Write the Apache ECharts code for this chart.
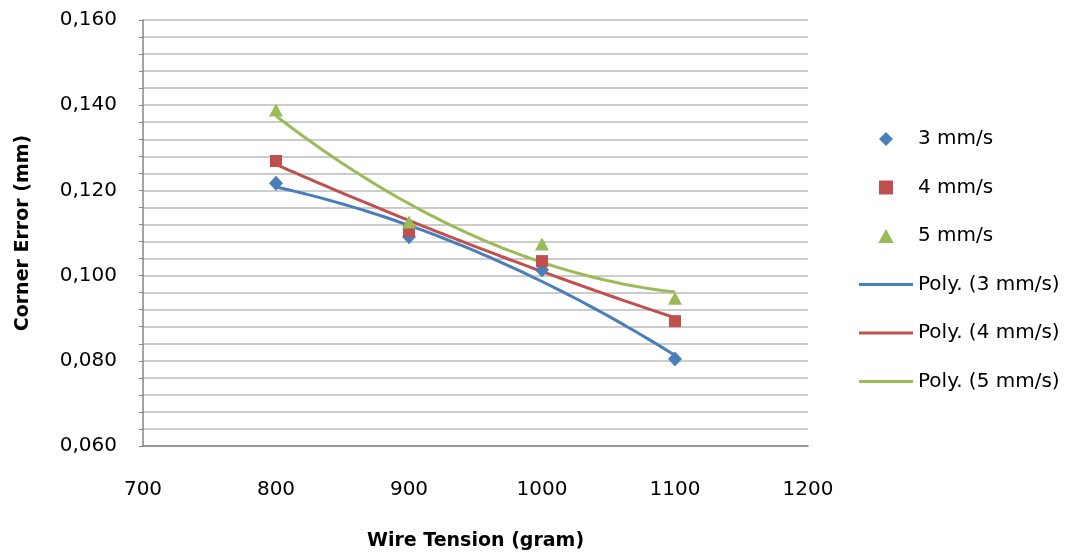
<!DOCTYPE html>
<html>
<head>
<meta charset="utf-8">
<script src="https://cdn.jsdelivr.net/npm/echarts@6/dist/echarts.min.js"></script>
<style>html,body{margin:0;padding:0;background:#fff}#c{width:1084px;height:556px}</style>
</head>
<body>
<div id="c"></div>
<script>
const tensions = [800, 900, 1000, 1100];
const err3 = [0.1217, 0.1091, 0.1013, 0.0804];
const err4 = [0.1269, 0.1105, 0.1034, 0.0893];
const err5 = [0.1389, 0.1126, 0.1074, 0.0947];
const seriesNames = ['3 mm/s', '4 mm/s', '5 mm/s'];
const trendNames = ['Poly. (3 mm/s)', 'Poly. (4 mm/s)', 'Poly. (5 mm/s)'];
const colors = ['#4a7ebb', '#c0504d', '#9bbb59'];
const xTickLabels = ['700', '800', '900', '1000', '1100', '1200'];
const yTickLabels = ['0,060', '0,080', '0,100', '0,120', '0,140', '0,160'];

// Excel-style order-2 polynomial trendline (least squares fit of the data above)
function polyFit2(xs, ys) {
  const n = xs.length;
  let s = [0,0,0,0,0], t = [0,0,0];
  for (let i = 0; i < n; i++) {
    const x = xs[i], y = ys[i];
    let p = 1;
    for (let k = 0; k <= 4; k++) { s[k] += p; if (k <= 2) t[k] += p * y; p *= x; }
  }
  const A = [[s[0], s[1], s[2], t[0]], [s[1], s[2], s[3], t[1]], [s[2], s[3], s[4], t[2]]];
  for (let i = 0; i < 3; i++) {
    for (let j = i + 1; j < 3; j++) {
      const f = A[j][i] / A[i][i];
      for (let k = i; k < 4; k++) A[j][k] -= f * A[i][k];
    }
  }
  const c = [0,0,0];
  for (let i = 2; i >= 0; i--) {
    let v = A[i][3];
    for (let k = i + 1; k < 3; k++) v -= A[i][k] * c[k];
    c[i] = v / A[i][i];
  }
  return c;
}
function trend(xs, ys) {
  const m = xs.reduce((a, b) => a + b, 0) / xs.length;
  const xc = xs.map(x => (x - m) / 100);
  const c = polyFit2(xc, ys);
  const out = [];
  for (let x = xs[0]; x <= xs[xs.length - 1] + 1e-9; x += 5) {
    const u = (x - m) / 100;
    out.push([x, c[0] + c[1] * u + c[2] * u * u]);
  }
  return out;
}

const allErr = [err3, err4, err5];
const symbols = ['diamond', 'rect', 'triangle'];
const symbolSizes = [[14, 15], [12, 12], [14, 13]];
const legendIcons = ['path://M5,0 L10,5 L5,10 L0,5 Z', 'path://M1,1 L9,1 L9,9 L1,9 Z', 'path://M5,0 L10,9 L0,9 Z'];
const lineIcon = 'path://M0,0 L54,0 L54,3 L0,3 Z';
const FONT = '"DejaVu Sans", sans-serif';

const series = [];
allErr.forEach((arr, i) => {
  series.push({
    name: seriesNames[i], type: 'scatter',
    data: tensions.map((x, j) => [x, arr[j]]),
    symbol: symbols[i], symbolSize: symbolSizes[i],
    itemStyle: { color: colors[i], opacity: 1 }, z: 3
  });
});
allErr.forEach((arr, i) => {
  series.push({
    name: trendNames[i], type: 'scatter', data: [],
    symbol: 'none', itemStyle: { color: colors[i], opacity: 1 }
  });
  series.push({
    name: trendNames[i], type: 'line', data: trend(tensions, arr),
    symbol: 'none', showSymbol: false, smooth: false, legendHoverLink: false,
    lineStyle: { color: colors[i], width: 3 }, itemStyle: { color: colors[i] }, z: 2
  });
});

const legendData = seriesNames.map((n, i) => ({ name: n, icon: legendIcons[i], itemStyle: { color: colors[i], opacity: 1 } }))
  .concat(trendNames.map((n, i) => ({ name: n, icon: lineIcon, itemStyle: { color: colors[i], opacity: 1 } })));

const chart = echarts.init(document.getElementById('c'), null, { renderer: 'canvas' });
chart.setOption({
  animation: false,
  backgroundColor: '#fff',
  textStyle: { fontFamily: FONT },
  grid: { left: 143, top: 20, right: 276, bottom: 110, containLabel: false },
  xAxis: {
    type: 'value', min: 700, max: 1200, interval: 100,
    name: 'Wire Tension (gram)', nameLocation: 'middle', nameGap: 86,
    nameTextStyle: { fontFamily: FONT, fontSize: 19, fontWeight: 'bold', color: '#000' },
    axisLine: { show: true, lineStyle: { color: '#868686', width: 1.5 } },
    axisTick: { show: false },
    axisLabel: { margin: 34, fontSize: 20, color: '#000', fontFamily: FONT,
      formatter: (v) => xTickLabels[Math.round((v - 700) / 100)] },
    splitLine: { show: false }
  },
  yAxis: {
    type: 'value', min: 0.06, max: 0.16, interval: 0.02,
    name: 'Corner Error (mm)', nameLocation: 'middle', nameGap: 110, nameRotate: 90,
    nameTextStyle: { fontFamily: FONT, fontSize: 19, fontWeight: 'bold', color: '#000' },
    axisLine: { show: true, lineStyle: { color: '#868686', width: 1.5 } },
    axisTick: { show: true, length: 4, lineStyle: { color: '#868686' } },
    minorTick: { show: true, splitNumber: 5, length: 4, lineStyle: { color: '#868686' } },
    axisLabel: { margin: 26, fontSize: 20, color: '#000', fontFamily: FONT,
      formatter: (v) => yTickLabels[Math.round((v - 0.06) / 0.02)] },
    splitLine: { show: true, lineStyle: { color: '#bcbcbc', width: 1.5 } },
    minorSplitLine: { show: true, lineStyle: { color: '#bcbcbc', width: 1.5 } }
  },
  legend: {
    orient: 'vertical', left: 854, top: 124,
    itemWidth: 54, itemHeight: 14, itemGap: 28.5,
    textStyle: { fontSize: 20, color: '#000', fontFamily: FONT, lineHeight: 20 },
    data: legendData
  },
  series: series
});
</script>
</body>
</html>
